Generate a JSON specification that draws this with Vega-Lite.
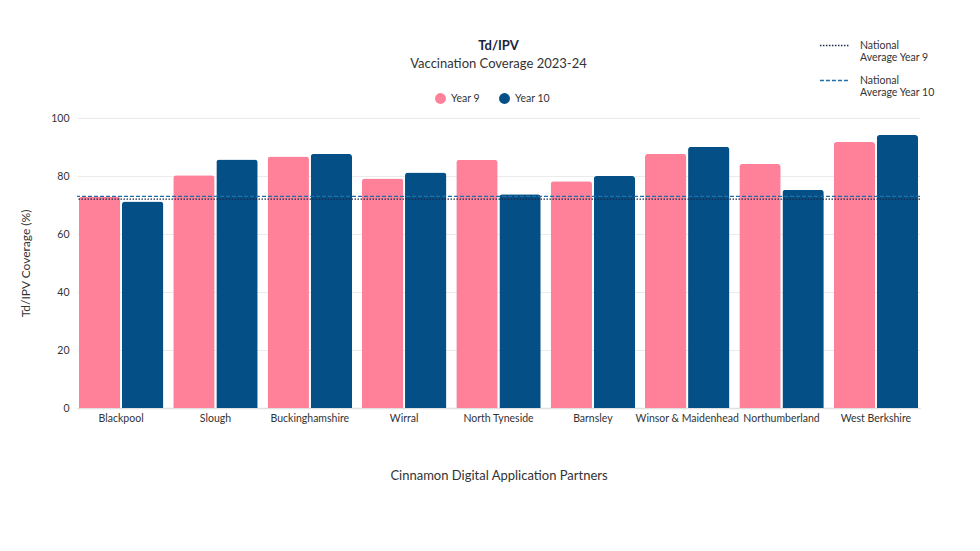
{
  "$schema": "https://vega.github.io/schema/vega-lite/v6.json",
  "width": 843,
  "height": 290,
  "autosize": {"type": "none"},
  "padding": {"left": 77, "top": 118, "right": 60, "bottom": 143},
  "background": "white",
  "config": {
    "font": "Lato",
    "view": {"stroke": null},
    "axis": {"labelFont": "Lato", "titleFont": "Lato", "labelColor": "#333333", "titleColor": "#333333"},
    "legend": {"labelFont": "Lato", "labelColor": "#333333"}
  },
  "title": {
    "text": "Td/IPV",
    "subtitle": "Vaccination Coverage 2023-24",
    "anchor": "middle",
    "fontSize": 13,
    "fontWeight": "bold",
    "color": "#1b2440",
    "subtitleFontSize": 13,
    "subtitleColor": "#333333",
    "subtitleFont": "Lato",
    "subtitlePadding": 5,
    "offset": -41
  },
  "datasets": {
    "bars": [
      {"partner": "Blackpool", "year": "Year 9", "coverage": 72.9},
      {"partner": "Blackpool", "year": "Year 10", "coverage": 71.2},
      {"partner": "Slough", "year": "Year 9", "coverage": 80.3},
      {"partner": "Slough", "year": "Year 10", "coverage": 85.7},
      {"partner": "Buckinghamshire", "year": "Year 9", "coverage": 86.7},
      {"partner": "Buckinghamshire", "year": "Year 10", "coverage": 87.6},
      {"partner": "Wirral", "year": "Year 9", "coverage": 79.1},
      {"partner": "Wirral", "year": "Year 10", "coverage": 81.2},
      {"partner": "North Tyneside", "year": "Year 9", "coverage": 85.6},
      {"partner": "North Tyneside", "year": "Year 10", "coverage": 73.7},
      {"partner": "Barnsley", "year": "Year 9", "coverage": 78.2},
      {"partner": "Barnsley", "year": "Year 10", "coverage": 80.0},
      {"partner": "Winsor & Maidenhead", "year": "Year 9", "coverage": 87.6},
      {"partner": "Winsor & Maidenhead", "year": "Year 10", "coverage": 90.1},
      {"partner": "Northumberland", "year": "Year 9", "coverage": 84.1},
      {"partner": "Northumberland", "year": "Year 10", "coverage": 75.3},
      {"partner": "West Berkshire", "year": "Year 9", "coverage": 91.7},
      {"partner": "West Berkshire", "year": "Year 10", "coverage": 94.1}
    ],
    "averages": [
      {"series": "National Average Year 9", "coverage": 72.0},
      {"series": "National Average Year 10", "coverage": 73.0}
    ]
  },
  "layer": [
    {
      "data": {"name": "bars"},
      "mark": {"type": "bar", "cornerRadiusTopLeft": 3, "cornerRadiusTopRight": 3},
      "encoding": {
        "x": {
          "field": "partner", "type": "nominal", "sort": null,
          "scale": {"paddingInner": 0.105, "paddingOuter": 0.02},
          "axis": {
            "title": "Cinnamon Digital Application Partners",
            "titleFontSize": 13, "titleFontWeight": "normal", "titlePadding": 46,
            "labelAngle": 0, "labelFontSize": 10.5, "labelPadding": 5,
            "ticks": false, "domainColor": "#e0e0e0", "domainWidth": 1.5
          }
        },
        "xOffset": {"field": "year", "type": "nominal", "sort": ["Year 9", "Year 10"], "scale": {"paddingInner": 0.04}},
        "y": {
          "field": "coverage", "type": "quantitative",
          "scale": {"domain": [0, 100]},
          "axis": {
            "title": "Td/IPV Coverage (%)", "titleFontSize": 12, "titleFontWeight": "normal", "titlePadding": 18,
            "values": [0, 20, 40, 60, 80, 100], "labelFontSize": 10.5, "labelPadding": 8,
            "domain": false, "ticks": false, "gridColor": "#ebebeb"
          }
        },
        "color": {
          "field": "year", "type": "nominal",
          "scale": {"domain": ["Year 9", "Year 10"], "range": ["#ff8099", "#044f85"]},
          "legend": {
            "title": null, "orient": "none", "direction": "horizontal",
            "legendX": 357, "legendY": -26, "symbolType": "circle", "symbolSize": 120,
            "labelFontSize": 10.5, "columnPadding": 18
          }
        }
      }
    },
    {
      "data": {"name": "averages"},
      "mark": {"type": "rule", "strokeWidth": 1.2},
      "encoding": {
        "y": {"field": "coverage", "type": "quantitative"},
        "stroke": {
          "field": "series", "type": "nominal",
          "scale": {"domain": ["National Average Year 9", "National Average Year 10"], "range": ["#1b2a47", "#1f6ea6"]},
          "legend": {
            "title": null, "orient": "none", "direction": "vertical",
            "legendX": 742, "legendY": -88, "symbolType": "stroke", "symbolSize": 850,
            "labelFontSize": 10.5, "labelExpr": "split(replace(datum.label, 'National ', 'National|'), '|')",
            "rowPadding": 1, "labelOffset": 10
          }
        },
        "strokeDash": {
          "field": "series", "type": "nominal",
          "scale": {"domain": ["National Average Year 9", "National Average Year 10"], "range": [[1.5, 1.5], [4, 2]]},
          "legend": {
            "title": null, "orient": "none", "direction": "vertical",
            "legendX": 742, "legendY": -88, "symbolType": "stroke", "symbolSize": 850,
            "labelFontSize": 10.5, "labelExpr": "split(replace(datum.label, 'National ', 'National|'), '|')",
            "rowPadding": 1, "labelOffset": 10
          }
        }
      }
    }
  ]
}
